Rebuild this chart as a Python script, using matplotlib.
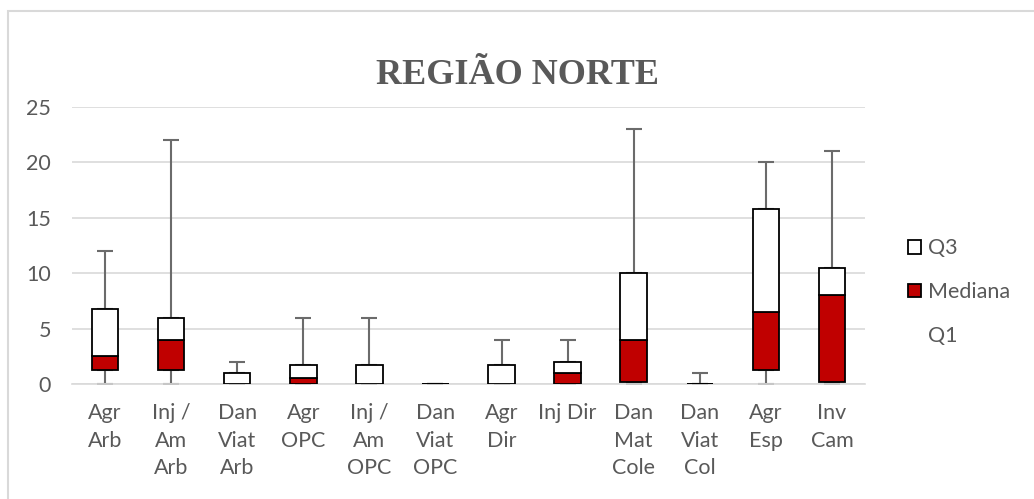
import matplotlib
matplotlib.use("Agg")
import matplotlib.pyplot as plt
from matplotlib.patches import Patch, Rectangle
import numpy as np

categories = ["Agr\nArb", "Inj /\nAm\nArb", "Dan\nViat\nArb", "Agr\nOPC", "Inj /\nAm\nOPC",
              "Dan\nViat\nOPC", "Agr\nDir", "Inj Dir", "Dan\nMat\nCole", "Dan\nViat\nCol",
              "Agr\nEsp", "Inv\nCam"]
minimum = [0, 0, 0, 0, 0, 0, 0, 0, 0, 0, 0, 0]
q1 = [1.25, 1.25, 0, 0, 0, 0, 0, 0, 0.2, 0, 1.25, 0.2]
median = [2.5, 4, 0, 0.5, 0, 0, 0, 1, 4, 0, 6.5, 8]
q3 = [6.75, 6, 1, 1.75, 1.75, 0, 1.75, 2, 10, 0, 15.75, 10.5]
maximum = [12, 22, 2, 6, 6, 0, 4, 4, 23, 1, 20, 21]
yticks = [0, 5, 10, 15, 20, 25]
title = "REGIÃO NORTE"

W, H = 1034, 499
fig = plt.figure(figsize=(W / 100, H / 100), dpi=100)
txt = "#595959"
red = "#C00000"
fs = 15.5

# outer chart border
fig.patches.append(Rectangle((8 / W, -0.1), 1.2, 1 - 11 / H + 0.1, transform=fig.transFigure,
                             fill=False, edgecolor="#D9D9D9", linewidth=1.5))

ax = fig.add_axes([72 / W, 1 - 384 / H, (865 - 72) / W, (384 - 107) / H])
x = np.arange(len(categories))
q1a = np.array(q1); meda = np.array(median); q3a = np.array(q3)
mina = np.array(minimum); maxa = np.array(maximum)
bw = 0.4

ax.bar(x, q1a, bw, color="none", edgecolor="none", zorder=3)
ax.bar(x, meda - q1a, bw, bottom=q1a, color=red, edgecolor="black", linewidth=1.3, zorder=3)
ax.bar(x, q3a - meda, bw, bottom=meda, color="white", edgecolor="black", linewidth=1.3, zorder=3)

ax.errorbar(x, q1a, yerr=[q1a - mina, np.zeros_like(q1a)], fmt="none", ecolor="#6b6b6b",
            elinewidth=1.5, capsize=5.5, capthick=1.5, zorder=2)
ax.errorbar(x, q3a, yerr=[np.zeros_like(q3a), maxa - q3a], fmt="none", ecolor="#6b6b6b",
            elinewidth=1.5, capsize=5.5, capthick=1.5, zorder=2)

ax.set_xlim(-0.5, len(categories) - 0.5)
ax.set_ylim(0, 25)
ax.set_yticks(yticks)
ax.yaxis.grid(True, color="#D9D9D9", linewidth=1.2, zorder=0)
ax.set_axisbelow(True)
for s in ["top", "right", "left"]:
    ax.spines[s].set_visible(False)
ax.spines["bottom"].set_color("#D9D9D9")
ax.spines["bottom"].set_linewidth(1.2)
ax.tick_params(axis="both", length=0, colors=txt, labelsize=fs)
ax.tick_params(axis="y", pad=15)
ax.tick_params(axis="x", pad=14)
ax.set_xticks(x)
ax.set_xticklabels(categories, va="top", linespacing=1.45)
for lab in ax.get_xticklabels() + ax.get_yticklabels():
    lab.set_fontfamily("Lato")
    lab.set_color(txt)

fig.text(517 / W, 1 - 75 / H, title, ha="center", va="center", fontsize=26,
         fontweight="bold", fontfamily="Liberation Serif", color=txt)

handles = [Patch(facecolor="white", edgecolor="black", linewidth=1.3),
           Patch(facecolor=red, edgecolor="black", linewidth=1.3),
           Patch(facecolor="none", edgecolor="none")]
leg = fig.legend(handles, ["Q3", "Mediana", "Q1"], loc="center left",
                 bbox_to_anchor=(889 / W, 1 - 292 / H), frameon=False,
                 prop={"family": "Lato", "size": fs}, labelcolor=txt,
                 handlelength=0.6, handleheight=0.6, handletextpad=0.3, labelspacing=1.1)

fig.savefig("out.png", dpi=100, facecolor="white")
